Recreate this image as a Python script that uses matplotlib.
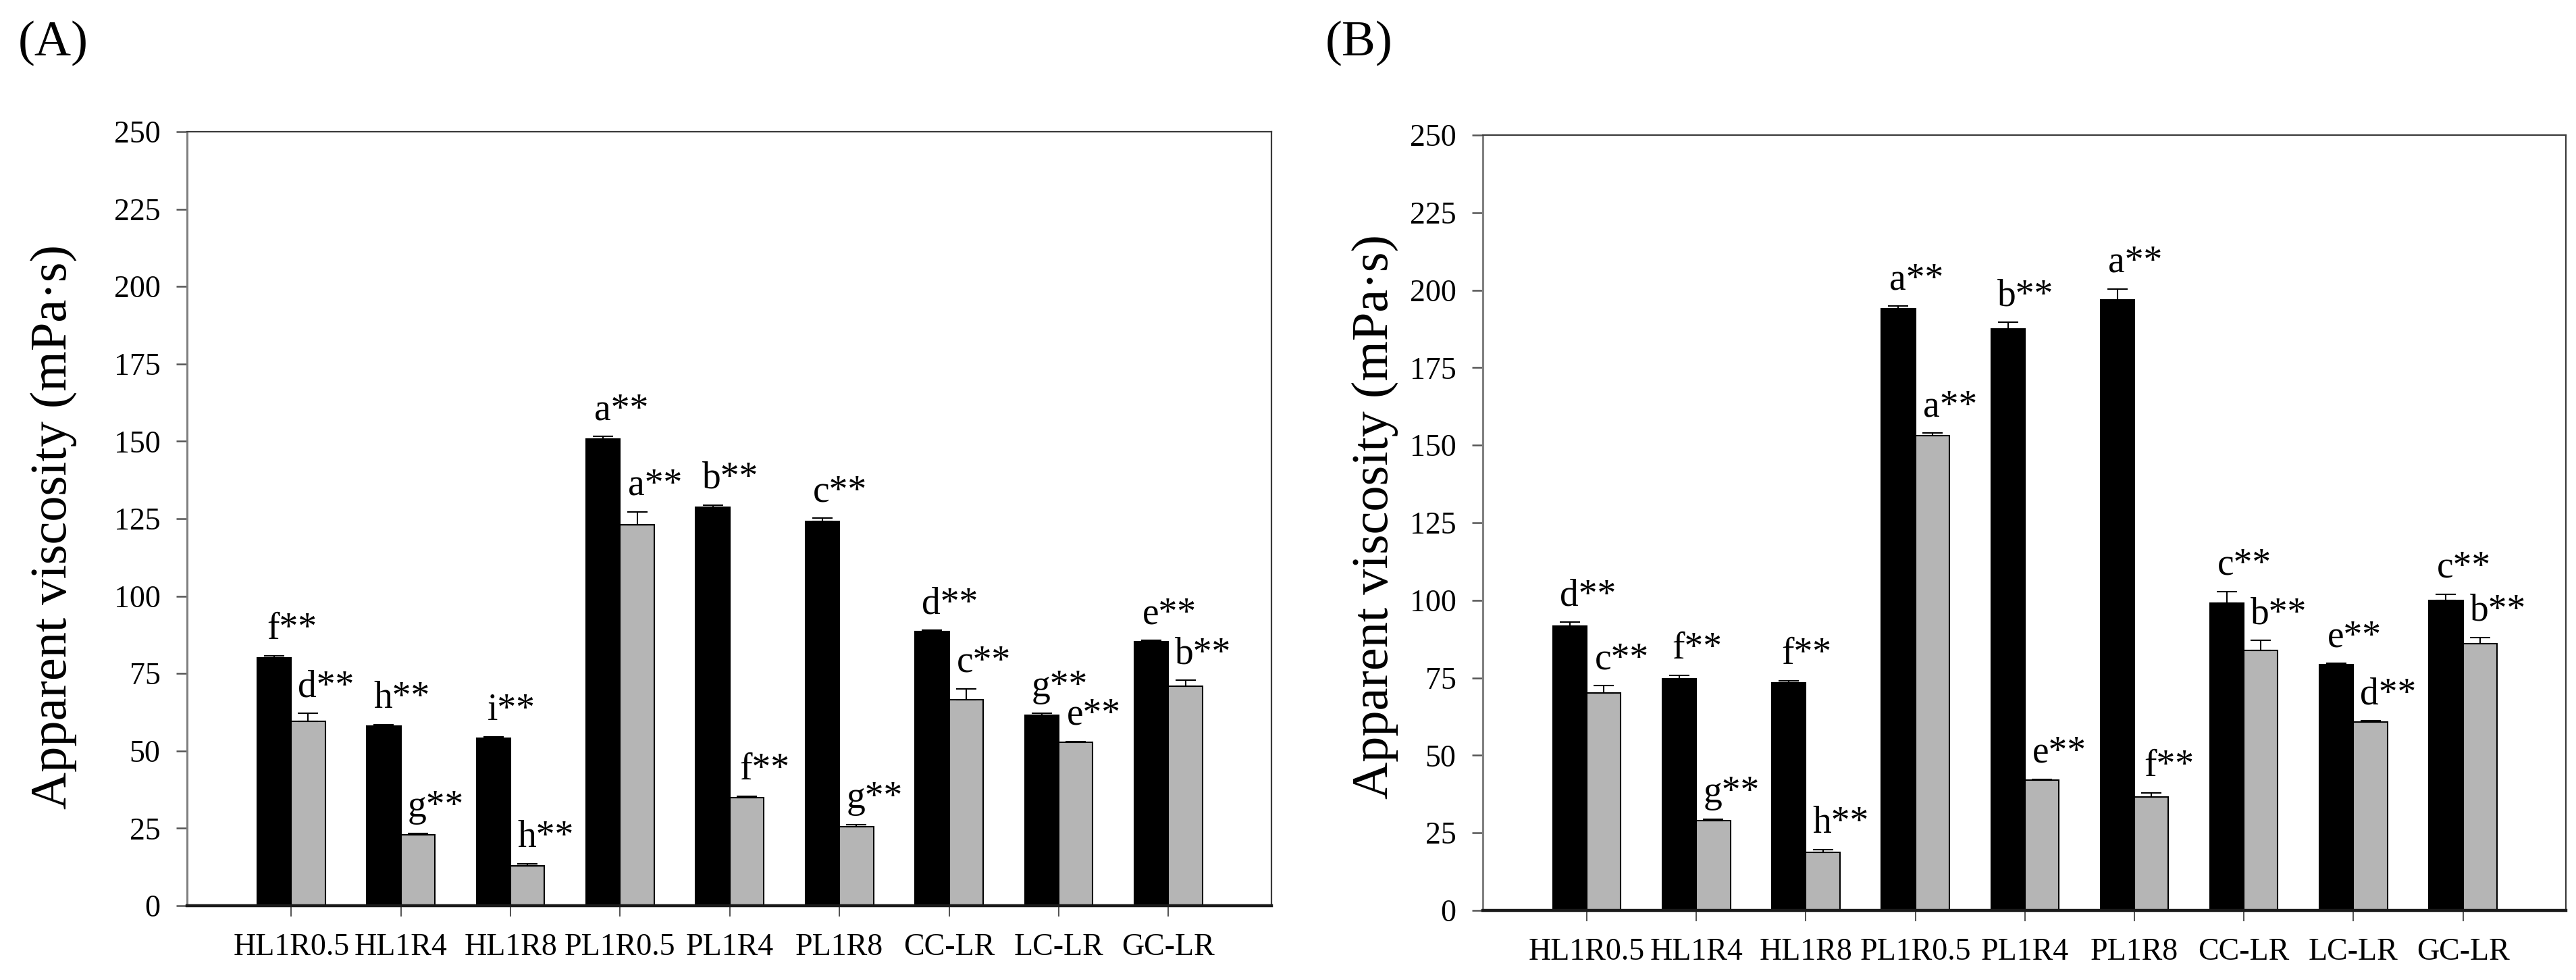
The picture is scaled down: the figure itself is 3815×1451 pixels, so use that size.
import numpy as np
import matplotlib
matplotlib.use("Agg")
import matplotlib.pyplot as plt

plt.rcParams["font.family"] = ["Liberation Serif", "DejaVu Serif"]

categories = ["HL1R0.5", "HL1R4", "HL1R8", "PL1R0.5", "PL1R4", "PL1R8", "CC-LR", "LC-LR", "GC-LR"]
yticks = [0, 25, 50, 75, 100, 125, 150, 175, 200, 225, 250]

# panel A
a_black = [80.0, 58.0, 54.0, 150.8, 128.7, 124.2, 88.5, 61.6, 85.2]
a_black_err = [0.8, 0.5, 0.5, 0.8, 0.7, 1.0, 0.5, 0.5, 0.5]
a_gray = [59.6, 22.8, 12.8, 123.1, 35.0, 25.5, 66.6, 52.8, 70.8]
a_gray_err = [2.5, 0.6, 0.8, 4.1, 0.3, 0.6, 3.5, 0.3, 2.0]
a_black_lbl = ["f", "h", "i", "a", "b", "c", "d", "g", "e"]
a_gray_lbl = ["d", "g", "h", "a", "f", "g", "c", "e", "b"]

# panel B
b_black = [91.7, 74.6, 73.3, 194.0, 187.6, 196.8, 99.0, 79.2, 100.0]
b_black_err = [1.2, 1.2, 0.8, 0.8, 2.0, 3.6, 3.8, 0.5, 2.0]
b_gray = [70.2, 29.0, 18.8, 153.2, 42.0, 36.5, 83.8, 60.8, 86.0]
b_gray_err = [2.3, 0.5, 0.7, 0.7, 0.3, 1.5, 3.2, 0.3, 2.0]
b_black_lbl = ["d", "f", "f", "a", "b", "a", "c", "e", "c"]
b_gray_lbl = ["c", "g", "h", "a", "e", "f", "b", "d", "b"]

W, H = 3815, 1451
BAR_W = 0.31
GRAY = "#b5b5b5"


def draw_panel(ax, black, black_err, gray, gray_err, black_lbl, gray_lbl):
    x = np.arange(len(categories))
    ax.bar(x - BAR_W, black, width=BAR_W, align="edge", color="black",
           edgecolor="black", linewidth=1.5, zorder=2)
    ax.bar(x, gray, width=BAR_W, align="edge", color=GRAY,
           edgecolor="black", linewidth=1.5, zorder=2)

    xb = x - BAR_W / 2
    xg = x + BAR_W / 2
    zeros = np.zeros(len(x))
    ax.errorbar(xb, black, yerr=[zeros, black_err], fmt="none", ecolor="black",
                elinewidth=1.5, capsize=11, capthick=1.5, zorder=3)
    ax.errorbar(xg, gray, yerr=[zeros, gray_err], fmt="none", ecolor="black",
                elinewidth=1.5, capsize=11, capthick=1.5, zorder=3)

    # significance letters, letter centred over bar, ** trailing to the right
    for xi, v, e, s in zip(xb, black, black_err, black_lbl):
        ax.annotate(s + "**", (xi, v + e), xytext=(19, 18), textcoords="offset points",
                    ha="center", va="baseline", fontsize=40)
    for xi, v, e, s in zip(xg, gray, gray_err, gray_lbl):
        ax.annotate(s + "**", (xi, v + e), xytext=(19, 18), textcoords="offset points",
                    ha="center", va="baseline", fontsize=40)

    ax.set_xlim(-0.95, 8.94)
    ax.set_ylim(0, 250)
    ax.set_yticks(yticks)
    ax.set_xticks(x)
    ax.set_xticklabels(categories)
    ax.tick_params(axis="y", direction="out", length=11.5, width=1.8, color="#555555",
                   labelsize=33, pad=17)
    ax.tick_params(axis="x", direction="out", length=11.5, width=1.2, color="#333333",
                   labelsize=33, pad=18)
    ax.spines["left"].set_color("#808080")
    ax.spines["left"].set_linewidth(2.2)
    ax.spines["bottom"].set_color("#1a1a1a")
    ax.spines["bottom"].set_linewidth(3.2)
    ax.spines["bottom"].set_zorder(4)
    for side in ("top", "right"):
        ax.spines[side].set_color("#3a3a3a")
        ax.spines[side].set_linewidth(1.6)


fig = plt.figure(figsize=(W / 100, H / 100), dpi=100)

ax_a = fig.add_axes([277 / W, (H - 1341) / H, 1606 / W, (1341 - 195) / H])
draw_panel(ax_a, a_black, a_black_err, a_gray, a_gray_err, a_black_lbl, a_gray_lbl)

ax_b = fig.add_axes([2196 / W, (H - 1348) / H, 1604 / W, (1348 - 200) / H])
draw_panel(ax_b, b_black, b_black_err, b_gray, b_gray_err, b_black_lbl, b_gray_lbl)

ylabel = "Apparent viscosity (mPa\u00b7s)"
fig.text(79 / W, 1 - 780 / H, ylabel, rotation=90, ha="center", va="center", fontsize=55)
fig.text(2036 / W, 1 - 765 / H, ylabel, rotation=90, ha="center", va="center", fontsize=55)

fig.text(27 / W, 1 - 82 / H, "(A)", ha="left", va="baseline", fontsize=54)
fig.text(1963 / W, 1 - 82 / H, "(B)", ha="left", va="baseline", fontsize=54)

fig.savefig("out.png", dpi=100, facecolor="white")
